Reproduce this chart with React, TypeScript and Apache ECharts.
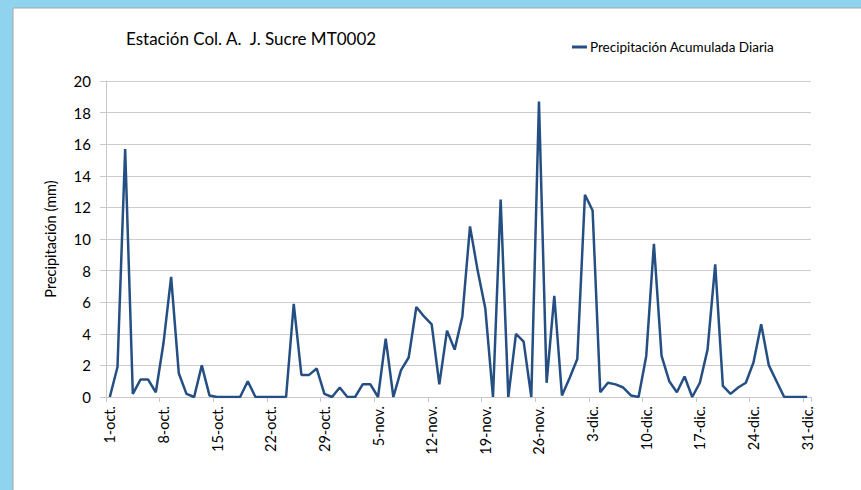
import React, { useEffect, useRef } from "react";
import * as echarts from "echarts";

const monthNames = ["oct", "nov", "dic"];
const monthDays = [31, 30, 31];

const categories: string[] = [];
monthNames.forEach((m, mi) => {
  for (let d = 1; d <= monthDays[mi]; d++) categories.push(`${d}-${m}.`);
});

// Daily accumulated precipitation (mm), 1-oct .. 31-dic
const precipOct = [
  0, 1.9, 15.7, 0.2, 1.1, 1.1, 0.3, 3.4, 7.6, 1.5,
  0.2, 0, 2.0, 0.1, 0, 0, 0, 0, 1.0, 0,
  0, 0, 0, 0, 5.9, 1.4, 1.4, 1.8, 0.2, 0,
  0.6,
];
const precipNov = [
  0, 0, 0.8, 0.8, 0, 3.7, 0, 1.7, 2.5, 5.7,
  5.1, 4.6, 0.8, 4.2, 3.0, 5.1, 10.8, 8.0, 5.6, 0,
  12.5, 0, 4.0, 3.5, 0, 18.7, 0.9, 6.4, 0.1, 1.2,
];
const precipDic = [
  2.4, 12.8, 11.8, 0.3, 0.9, 0.8, 0.6, 0.1, 0, 2.6,
  9.7, 2.6, 1.0, 0.3, 1.3, 0, 0.9, 3.0, 8.4, 0.7,
  0.2, 0.6, 0.9, 2.2, 4.6, 2.0, 1.0, 0, 0, 0,
  0,
];
const precip = [...precipOct, ...precipNov, ...precipDic];

const yTicksMin = 0;
const yTicksMax = 20;
const yTicksStep = 2;

const FONT = "Lato, 'Noto Sans', sans-serif";

export default function App() {
  const ref = useRef<HTMLDivElement>(null);
  useEffect(() => {
    if (!ref.current) return;
    const chart = echarts.init(ref.current, undefined, { renderer: "svg" });
    chart.setOption({
      animation: false,
      backgroundColor: "#8FD3EE",
      textStyle: { fontFamily: FONT },
      graphic: [
        {
          type: "rect",
          z: -10,
          shape: { x: 13, y: 8, width: 860, height: 490 },
          style: { fill: "#ffffff", stroke: "#A6A6A6", lineWidth: 1 },
        },
      ],
      title: {
        text: "Estación Col. A.  J. Sucre MT0002",
        left: 121,
        top: 25,
        textStyle: {
          fontFamily: FONT,
          fontSize: 17,
          fontWeight: "normal",
          color: "#000000",
        },
      },
      legend: {
        left: 567,
        top: 35,
        icon: "rect",
        itemWidth: 15,
        itemHeight: 3,
        itemGap: 4,
        textStyle: { fontFamily: FONT, fontSize: 13.5, color: "#000000", padding: [0, 0, 0, -2] },
        data: ["Precipitación Acumulada Diaria"],
      },
      grid: { left: 106, top: 81, right: 50, bottom: 93, containLabel: false },
      xAxis: {
        type: "category",
        data: categories,
        boundaryGap: true,
        axisLine: { lineStyle: { color: "#C8C8C8", width: 1 } },
        axisTick: { show: true, interval: 6, length: 5, lineStyle: { color: "#C8C8C8" } },
        axisLabel: {
          interval: 6,
          rotate: 90,
          margin: 9,
          fontFamily: FONT,
          fontSize: 14.5,
          color: "#000000",
        },
        splitLine: { show: false },
      },
      yAxis: {
        type: "value",
        min: yTicksMin,
        max: yTicksMax,
        interval: yTicksStep,
        name: "Precipitación (mm)",
        nameLocation: "middle",
        nameGap: 48,
        nameRotate: 90,
        nameTextStyle: { fontFamily: FONT, fontSize: 14.5, color: "#000000" },
        axisLine: { show: true, lineStyle: { color: "#C8C8C8", width: 1 } },
        axisTick: { show: true, length: 6, lineStyle: { color: "#C8C8C8" } },
        axisLabel: { margin: 15, fontFamily: FONT, fontSize: 15, color: "#000000" },
        splitLine: { show: true, lineStyle: { color: "#CDCDCD", width: 1 } },
      },
      series: [
        {
          name: "Precipitación Acumulada Diaria",
          type: "line",
          data: precip,
          showSymbol: false,
          symbol: "none",
          lineStyle: { color: "#254F82", width: 2.5 },
          itemStyle: { color: "#254F82" },
        },
      ],
    });
    return () => chart.dispose();
  }, []);
  return (
    <div
      ref={ref}
      style={{ position: "fixed", left: 0, top: 0, width: 861, height: 490 }}
    />
  );
}
